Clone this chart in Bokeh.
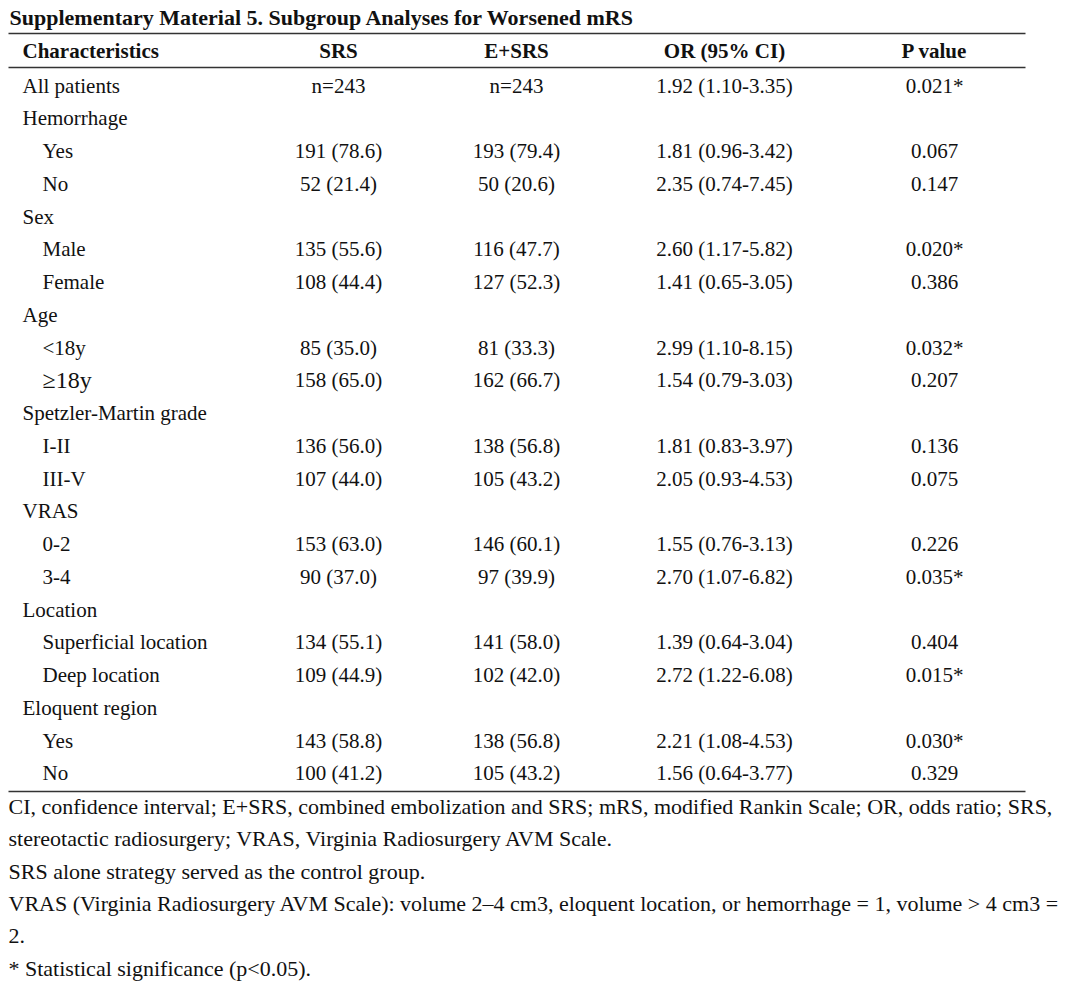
from bokeh.plotting import figure
from bokeh.models import Range1d, ColumnDataSource
from bokeh.core.properties import value
from bokeh.embed import file_html
from bokeh.resources import INLINE

# ---------------- data ----------------
title = "Supplementary Material 5. Subgroup Analyses for Worsened mRS"
headers = ["Characteristics", "SRS", "E+SRS", "OR (95% CI)", "P value"]

labels = ["All patients", "Hemorrhage", "Yes", "No", "Sex", "Male", "Female",
          "Age", "<18y", "\u226518y", "Spetzler-Martin grade", "I-II", "III-V",
          "VRAS", "0-2", "3-4", "Location", "Superficial location", "Deep location",
          "Eloquent region", "Yes", "No"]
levels = [0, 0, 1, 1, 0, 1, 1, 0, 1, 1, 0, 1, 1, 0, 1, 1, 0, 1, 1, 0, 1, 1]
srs = ["n=243", "", "191 (78.6)", "52 (21.4)", "", "135 (55.6)", "108 (44.4)",
       "", "85 (35.0)", "158 (65.0)", "", "136 (56.0)", "107 (44.0)",
       "", "153 (63.0)", "90 (37.0)", "", "134 (55.1)", "109 (44.9)",
       "", "143 (58.8)", "100 (41.2)"]
esrs = ["n=243", "", "193 (79.4)", "50 (20.6)", "", "116 (47.7)", "127 (52.3)",
        "", "81 (33.3)", "162 (66.7)", "", "138 (56.8)", "105 (43.2)",
        "", "146 (60.1)", "97 (39.9)", "", "141 (58.0)", "102 (42.0)",
        "", "138 (56.8)", "105 (43.2)"]
or_ci = ["1.92 (1.10-3.35)", "", "1.81 (0.96-3.42)", "2.35 (0.74-7.45)", "",
         "2.60 (1.17-5.82)", "1.41 (0.65-3.05)", "", "2.99 (1.10-8.15)",
         "1.54 (0.79-3.03)", "", "1.81 (0.83-3.97)", "2.05 (0.93-4.53)", "",
         "1.55 (0.76-3.13)", "2.70 (1.07-6.82)", "", "1.39 (0.64-3.04)",
         "2.72 (1.22-6.08)", "", "2.21 (1.08-4.53)", "1.56 (0.64-3.77)"]
pval = ["0.021*", "", "0.067", "0.147", "", "0.020*", "0.386", "", "0.032*",
        "0.207", "", "0.136", "0.075", "", "0.226", "0.035*", "", "0.404",
        "0.015*", "", "0.030*", "0.329"]

footnotes = [
    "CI, confidence interval; E+SRS, combined embolization and SRS; mRS, modified Rankin Scale; OR, odds ratio; SRS,",
    "stereotactic radiosurgery; VRAS, Virginia Radiosurgery AVM Scale.",
    "SRS alone strategy served as the control group.",
    "VRAS (Virginia Radiosurgery AVM Scale): volume 2\u20134 cm3, eloquent location, or hemorrhage = 1, volume > 4 cm3 =",
    "2.",
    "* Statistical significance (p<0.05).",
]

# ---------------- layout ----------------
W, H = 1072, 983
FONT = value("Liberation Serif")
TXT = "#111111"
BODY = "21px"

p = figure(width=W, height=H, output_backend="svg", toolbar_location=None,
           x_range=Range1d(0, W), y_range=Range1d(H, 0),
           min_border=0, outline_line_color=None, background_fill_color="white")
p.axis.visible = False
p.xgrid.visible = False
p.ygrid.visible = False

col_x = [22, 338, 516, 724, 934]
row0, step = 85, 32.76
row_y = [row0 + i * step for i in range(len(labels))]

# title
p.text(x=[9], y=[17], text=[title], text_font=FONT, text_font_style="bold",
       text_font_size="22px", text_baseline="middle", text_align="left", text_color=TXT)

# rules
line_x0, line_x1 = 8, 1025
for yy in [33, 67, 791]:
    p.line(x=[line_x0, line_x1], y=[yy, yy], line_color="#333333", line_width=1.5)

# headers
p.text(x=[col_x[0]], y=[50], text=[headers[0]], text_font=FONT, text_font_style="bold",
       text_font_size=BODY, text_baseline="middle", text_align="left", text_color=TXT)
p.text(x=col_x[1:], y=[50] * 4, text=headers[1:], text_font=FONT, text_font_style="bold",
       text_font_size=BODY, text_baseline="middle", text_align="center", text_color=TXT)

# first column
normal_idx = [i for i, l in enumerate(labels) if l != "\u226518y"]
special_idx = [i for i, l in enumerate(labels) if l == "\u226518y"]
src_lab = ColumnDataSource(dict(
    x=[col_x[0] + 20 * levels[i] for i in normal_idx],
    y=[row_y[i] for i in normal_idx],
    t=[labels[i] for i in normal_idx]))
p.text(x="x", y="y", text="t", source=src_lab, text_font=FONT, text_font_size=BODY,
       text_baseline="middle", text_align="left", text_color=TXT)
src_sp = ColumnDataSource(dict(
    x=[col_x[0] + 20 * levels[i] for i in special_idx],
    y=[row_y[i] for i in special_idx],
    t=[labels[i] for i in special_idx]))
p.text(x="x", y="y", text="t", source=src_sp, text_font=FONT, text_font_size="24px",
       text_baseline="middle", text_align="left", text_color=TXT)

# value columns
for cx, col in zip(col_x[1:], [srs, esrs, or_ci, pval]):
    src = ColumnDataSource(dict(x=[cx] * len(col), y=row_y, t=col))
    p.text(x="x", y="y", text="t", source=src, text_font=FONT, text_font_size=BODY,
           text_baseline="middle", text_align="center", text_color=TXT)

# footnotes
fy = [806 + 32.4 * i for i in range(len(footnotes))]
p.text(x=[8] * len(footnotes), y=fy, text=footnotes, text_font=FONT, text_font_size="22px",
       text_baseline="middle", text_align="left", text_color=TXT)

open("out.html", "w").write(file_html(p, INLINE))
